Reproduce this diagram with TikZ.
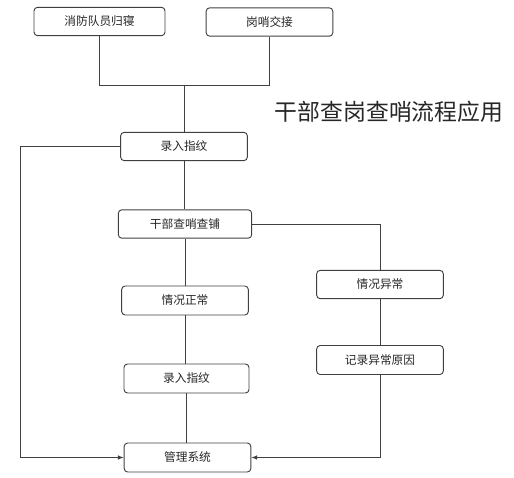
\documentclass[tikz,border=0pt]{standalone}
\usepackage{fontspec}
\newfontfamily\cjk{Noto Sans CJK SC}
\usepackage{tikz}
\usetikzlibrary{arrows.meta,positioning,calc}

\begin{document}
\begin{tikzpicture}[x=0.03cm, y=-0.03cm,
    flowbox/.style={draw=black!75, line width=0.8pt, rounded corners=3pt, minimum width=3.8cm, minimum height=0.85cm, inner sep=0pt, font=\cjk\fontsize{10}{12}\selectfont, text=black!85},
    flowline/.style={draw=black!75, line width=0.8pt},
    flowarrow/.style={flowline, -{Latex[length=5pt,width=4pt]}}]
  \useasboundingbox (0,0) rectangle (514,477);

  %--- Title ---
  \node[font=\cjk\fontsize{19.5}{22}\selectfont, text=black!85] (title) at (389,112) {干部查岗查哨流程应用};

  % top inputs
  \node[flowbox, minimum width=3.93cm] (guiqin) at (99.5,21.5) {消防队员归寝};
  \node[flowbox] (jiaojie) at (269.5,22) {岗哨交接};
  \coordinate (join) at (184,85);

  % main column
  \node[flowbox] (luru) at (184,146.5) {录入指纹};
  \node[flowbox, minimum width=4.0cm] (chapu) at (185,224) {干部查哨查铺};
  \node[flowbox, minimum height=0.87cm] (zhengchang) at (185,300.5) {情况正常};
  \node[flowbox, minimum width=3.75cm, minimum height=0.87cm] (luruzw) at (186.5,378.5) {录入指纹};
  \node[flowbox, minimum height=0.87cm] (guanli) at (187.5,457.5) {管理系统};

  % abnormal branch
  \node[flowbox] (yichang) at (380,284.5) {情况异常};
  \node[flowbox, minimum height=0.87cm] (yuanyin) at (380,360) {记录异常原因};

  % Connectors
  \draw[flowline] (guiqin.south) |- (join);
  \draw[flowline] (jiaojie.south) |- (join);
  \draw[flowline] (join) -- (luru.north);
  \draw[flowline] (luru.south) -- (luru.south |- chapu.north);
  \draw[flowline] (chapu.south) -- (chapu.south |- zhengchang.north);
  \draw[flowline] (zhengchang.south) -- (zhengchang.south |- luruzw.north);
  \draw[flowline] (luruzw.south) -- (luruzw.south |- guanli.north);
  \draw[flowarrow] (luru.west) -- ++(-100,0) |- (guanli.west);
  \draw[flowline] (chapu.east) -| (yichang.north);
  \draw[flowline] (yichang.south) -- (yuanyin.north);
  \draw[flowarrow] (yuanyin.south) |- (guanli.east);
\end{tikzpicture}
\end{document}
